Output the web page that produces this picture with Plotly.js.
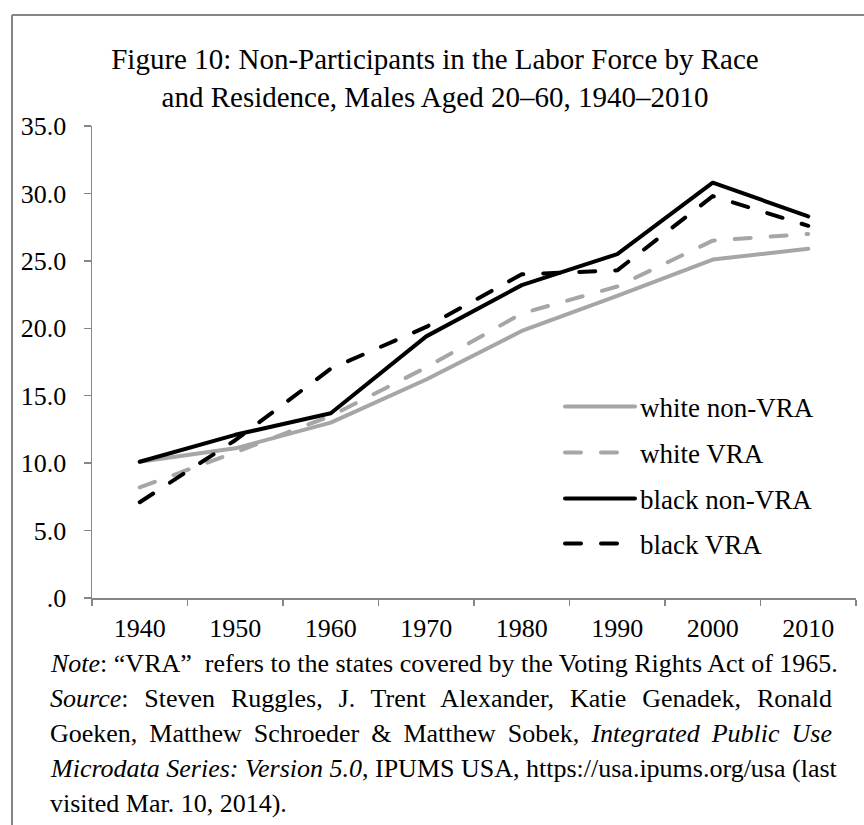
<!DOCTYPE html>
<html>
<head>
<meta charset="utf-8">
<script src="https://cdn.plot.ly/plotly-3.0.1.min.js"></script>
<style>
  html, body { margin: 0; padding: 0; background: #fff; }
  #chart { width: 864px; height: 825px; }
  #chart path.js-line { stroke-linecap: round; stroke-linejoin: round; }
</style>
</head>
<body>
<div id="chart"></div>
<script>
// ---- data ----
var years = ['1940', '1950', '1960', '1970', '1980', '1990', '2000', '2010'];
var whiteNonVRA = [10.1, 11.1, 13.0, 16.2, 19.8, 22.4, 25.1, 25.9];
var whiteVRA    = [8.2, 10.8, 13.5, 17.1, 21.1, 23.1, 26.5, 27.0];
var blackNonVRA = [10.1, 12.1, 13.7, 19.4, 23.2, 25.5, 30.8, 28.3];
var blackVRA    = [7.1, 11.7, 17.0, 20.1, 24.0, 24.3, 29.8, 27.6];
var seriesNames = ['white non-VRA', 'white VRA', 'black non-VRA', 'black VRA'];
var yTickVals = [0, 5, 10, 15, 20, 25, 30, 35];
var yTickText = ['.0', '5.0', '10.0', '15.0', '20.0', '25.0', '30.0', '35.0'];
var titleText = 'Figure 10: Non-Participants in the Labor Force by Race<br>and Residence, Males Aged 20\u201360, 1940\u20132010';
var noteLines = [
  '<i>Note</i>: \u201cVRA\u201d\u00a0 refers to the states covered by the Voting Rights Act of 1965.',
  '<i>Source</i>: Steven Ruggles, J. Trent Alexander, Katie Genadek, Ronald',
  'Goeken, Matthew Schroeder & Matthew Sobek, <i>Integrated Public Use</i>',
  '<i>Microdata Series: Version 5.0</i>, IPUMS USA, https://usa.ipums.org/usa (last',
  'visited Mar. 10, 2014).'
];
var justifyLines = [1, 2, 3];   // note lines that are full-justified

// ---- geometry helpers (pixel -> paper) ----
var W = 864, H = 825;
var M = {l: 92, r: 8, t: 126, b: 227};
var PW = W - M.l - M.r, PH = H - M.t - M.b;
function px(x) { return (x - M.l) / PW; }
function py(y) { return (H - M.b - y) / PH; }

var GRAY = '#A6A6A6';
var AXIS = '#868686';
var FONT = 'Liberation Serif, Times New Roman, serif';
var DASH = '16px,20px';

var traces = [
  {x: years, y: whiteNonVRA, name: seriesNames[0], legend: 'legend',
   line: {color: GRAY, width: 4, dash: 'solid'}},
  {x: years, y: whiteVRA, name: seriesNames[1], legend: 'legend2',
   line: {color: GRAY, width: 4, dash: DASH}},
  {x: years, y: blackNonVRA, name: seriesNames[2], legend: 'legend3',
   line: {color: '#000000', width: 4, dash: 'solid'}},
  {x: years, y: blackVRA, name: seriesNames[3], legend: 'legend4',
   line: {color: '#000000', width: 4, dash: DASH}}
].map(function (t) { t.type = 'scatter'; t.mode = 'lines'; t.hoverinfo = 'skip'; return t; });

function legendAt(yPix) {
  return {x: px(560), y: py(yPix), xanchor: 'left', yanchor: 'middle',
          bgcolor: 'rgba(0,0,0,0)', borderwidth: 0, itemwidth: 70,
          font: {family: FONT, size: 27, color: '#000'}};
}

var annotations = noteLines.map(function (txt, i) {
  return {text: txt, xref: 'paper', yref: 'paper', x: px(48), y: py(663 + i * 35),
          xanchor: 'left', yanchor: 'middle', showarrow: false, align: 'left',
          font: {family: FONT, size: 26, color: '#000'}};
});

var layout = {
  width: W, height: H,
  margin: M,
  paper_bgcolor: '#fff', plot_bgcolor: '#fff',
  font: {family: FONT, size: 26, color: '#000'},
  title: {text: titleText, font: {family: FONT, size: 29, color: '#000'},
          xref: 'container', x: 435 / W, xanchor: 'center', yref: 'container', y: 1 - 69 / H, yanchor: 'middle'},
  showlegend: true,
  legend: legendAt(407),
  legend2: legendAt(453),
  legend3: legendAt(499),
  legend4: legendAt(544),
  xaxis: {type: 'category', range: [-0.5, 7.5], showgrid: false, zeroline: false,
          showline: true, linecolor: AXIS, linewidth: 1.5,
          ticks: 'outside', tickson: 'boundaries', ticklen: 6, tickwidth: 1.5, tickcolor: AXIS,
          ticklabelstandoff: 6,
          tickfont: {family: FONT, size: 26, color: '#000'}, fixedrange: true},
  yaxis: {range: [0, 35], tickvals: yTickVals, ticktext: yTickText, showgrid: false, zeroline: false,
          showline: true, linecolor: AXIS, linewidth: 1.5,
          ticks: 'outside', ticklen: 7, tickwidth: 1.5, tickcolor: AXIS, ticklabelstandoff: 12,
          tickfont: {family: FONT, size: 26, color: '#000'}, fixedrange: true},
  shapes: [
    {type: 'line', xref: 'paper', yref: 'paper', x0: px(12), x1: px(12), y0: py(15), y1: py(H + 5),
     line: {color: AXIS, width: 2}},
    {type: 'line', xref: 'paper', yref: 'paper', x0: px(12), x1: px(W + 5), y0: py(15), y1: py(15),
     line: {color: AXIS, width: 2}}
  ],
  annotations: annotations
};

Plotly.newPlot('chart', traces, layout, {staticPlot: true, displayModeBar: false}).then(function (gd) {
  // full-justify the source lines to the right edge of the note block
  var targetRight = 832;
  var texts = gd.querySelectorAll('.annotation-text');
  justifyLines.forEach(function (i) {
    var el = texts[i];
    if (!el) return;
    var spaces = (el.textContent.match(/ /g) || []).length;
    if (!spaces) return;
    var right = el.getBoundingClientRect().right;
    var ws = (targetRight - right) / spaces;
    if (ws > 0) el.style.wordSpacing = ws + 'px';
  });
});
</script>
</body>
</html>
